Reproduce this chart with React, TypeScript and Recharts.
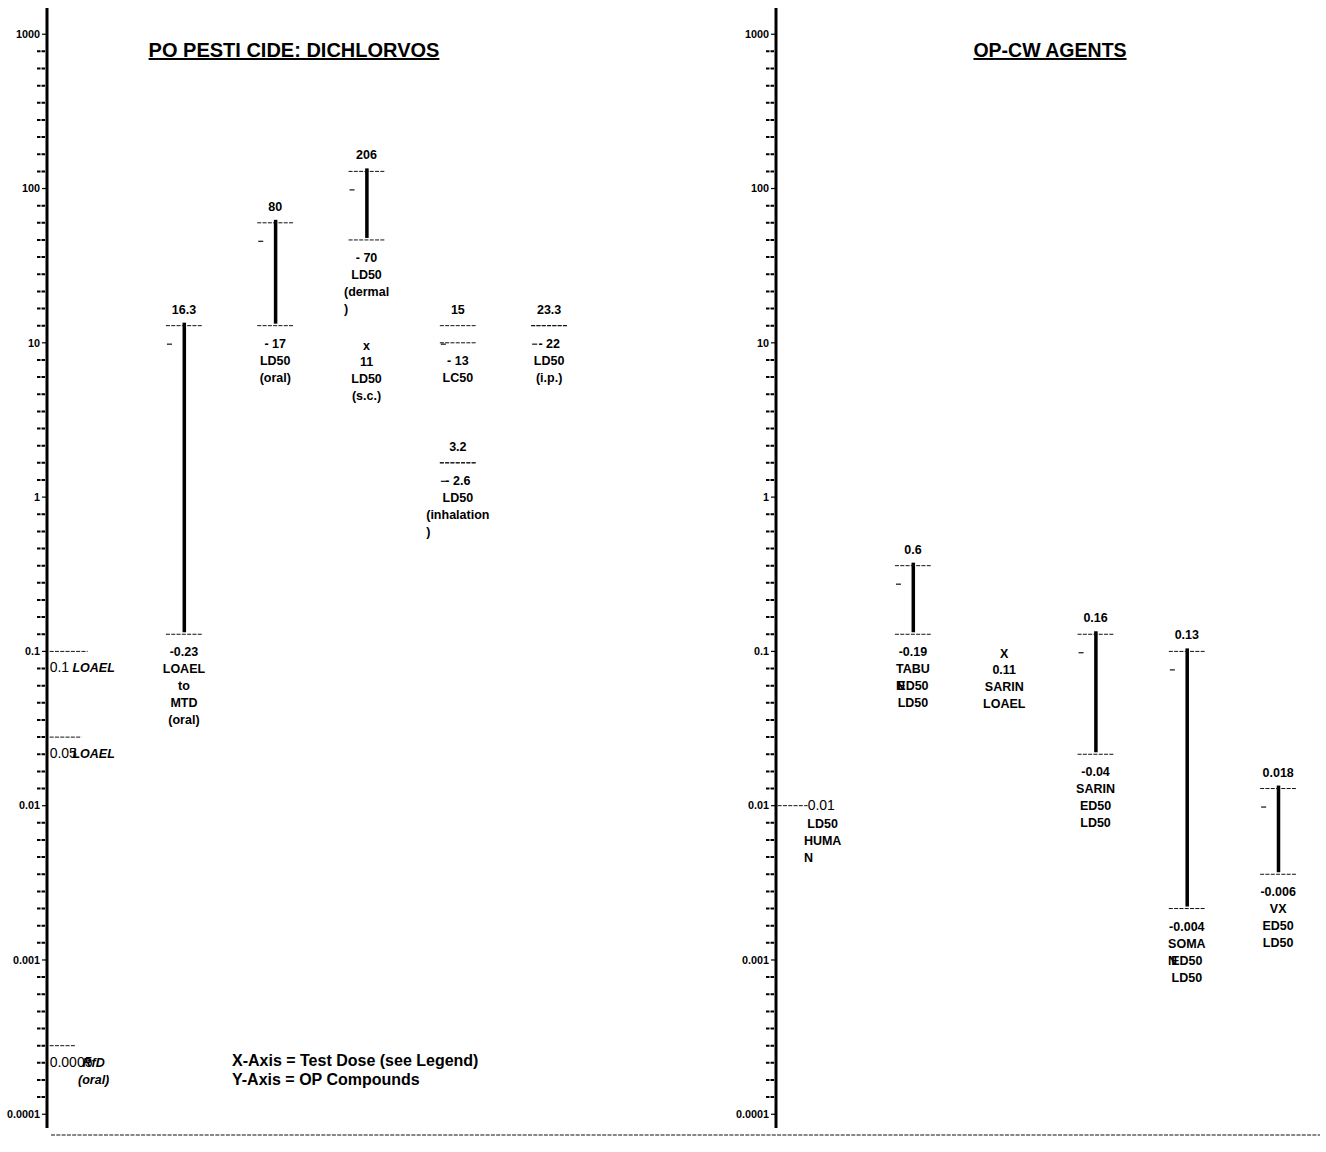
import React from 'react';
import { ComposedChart, Bar, Scatter, XAxis, YAxis } from 'recharts';

const FONT = '"Liberation Sans", Arial, Helvetica, sans-serif';
const LABEL_FONT = `bold 12.5px ${FONT}`;

// y axis: one labelled tick per decade, 9 even steps inside each decade
const decadeLabels = ['0.0001', '0.001', '0.01', '0.1', '1', '10', '100', '1000'];
const decadeExp = [-4, -3, -2, -1, 0, 1, 2, 3];

// ---- left panel: PO pesticide (dichlorvos), doses in mg/kg
const pestCategories = ['Reference levels', 'LOAEL to MTD (oral)', 'LD50 (oral)', 'LD50 (dermal) / (s.c.)', 'LC50 / LD50 (inhalation)', 'LD50 (i.p.)'];
const pestHigh = [null, 16.3, 80, 206, 15, 23.3];
const pestLow = [null, 0.23, 17, 70, 13, 22];
const pestHasBar = [false, true, true, true, false, false];
const pestHighText = ['', '16.3', '80', '206', '15', '23.3'];
const pestLowLines = [[], ['-0.23', 'LOAEL', 'to', 'MTD', '(oral)'], ['- 17', 'LD50', '(oral)'], ['- 70', 'LD50', '(dermal\n)'], ['- 13', 'LC50'], ['- 22', 'LD50', '(i.p.)']];
const pestHigh2 = [null, null, null, null, 3.2, null];
const pestLow2 = [null, null, null, null, 2.6, null];
const pestHigh2Text = ['', '', '', '', '3.2', ''];
const pestLow2Lines = [[], [], [], [], ['- 2.6', 'LD50', '(inhalation\n)'], []];
const pestPoint = [null, null, null, 11, null, null];
const pestPointLines = [[], [], [], ['11', 'LD50', '(s.c.)'], [], []];
// reference levels drawn in the first column
const refValues = [0.1, 0.05, 0.0005];
const refValueText = ['0.1', '0.05', '0.0005'];
const refLines = [['LOAEL'], ['LOAEL'], ['RfD', '(oral)']];
const refDashWidths = [38, 32, 26];

// ---- right panel: OP-CW agents
const agentCategories = ['HUMAN LD50', 'TABUN', 'SARIN LOAEL', 'SARIN', 'SOMAN', 'VX'];
const agentHigh = [null, 0.6, null, 0.16, 0.13, 0.018];
const agentLow = [null, 0.19, null, 0.04, 0.004, 0.006];
const agentHighText = ['', '0.6', '', '0.16', '0.13', '0.018'];
const agentLowLines = [[], ['-0.19', 'TABU\nN', 'ED50', 'LD50'], [], ['-0.04', 'SARIN', 'ED50', 'LD50'], ['-0.004', 'SOMA\nN', 'ED50', 'LD50'], ['-0.006', 'VX', 'ED50', 'LD50']];
const agentPoint = [null, null, 0.11, null, null, null];
const agentPointLines = [[], [], ['0.11', 'SARIN', 'LOAEL'], [], [], []];
const humanValue = [0.01, null, null, null, null, null];
const humanText = '0.01';
const humanLines = ['LD50', 'HUMA\nN'];

const U_MAX = 3.17;
const U_MIN = -4.089;

// value -> axis units: decade index + nearest of the 9 even steps inside the decade
// (the original sheet plots every dose on its nearest minor division)
const toU = (v: number | null) => {
  if (v == null) return null;
  const k = Math.floor(Math.log10(v) + 1e-9);
  const m = v / Math.pow(10, k);
  return k + Math.round(m - 1 + 1e-9) / 9;
};

const axisTicks: number[] = [];
for (let k = -4; k < 3; k++) for (let j = 0; j < 9; j++) axisTicks.push(k + j / 9);
axisTicks.push(3);

let measureCtx: CanvasRenderingContext2D | null = null;
function textWidth(s: string, font: string) {
  if (!measureCtx && typeof document !== 'undefined') measureCtx = document.createElement('canvas').getContext('2d');
  if (!measureCtx) return s.length * 7;
  measureCtx.font = font;
  return measureCtx.measureText(s).width;
}

function AxisTick(props: any) {
  const { x, y, payload } = props;
  const v = payload.value;
  if (Math.abs(v - Math.round(v)) < 1e-6) {
    const label = decadeLabels[decadeExp.indexOf(Math.round(v))];
    return (
      <g>
        <line x1={x - 5} x2={x - 1} y1={y} y2={y} stroke="#000" strokeWidth={1.2} />
        <text x={x - 7} y={y + 3.8} textAnchor="end" fontFamily={FONT} fontSize={10.8} fontWeight="bold" fill="#000">
          {label}
        </text>
      </g>
    );
  }
  return <line x1={x - 10} x2={x - 2} y1={y} y2={y} stroke="#000" strokeWidth={2} strokeDasharray="3.5 1" />;
}

function LabelLines({ x, y, lines, italic = false }: { x: number; y: number; lines: string[]; italic?: boolean }) {
  const out: React.ReactNode[] = [];
  const font = `${italic ? 'italic ' : ''}${LABEL_FONT}`;
  lines.forEach((line, i) => {
    const parts = line.split('\n');
    const w = textWidth(parts[0], font);
    parts.forEach((p, j) => (
      out.push(
        <text
          key={`${i}-${j}`}
          x={j === 0 ? x : x - w / 2}
          y={y + (i + j) * 17}
          textAnchor={j === 0 ? 'middle' : 'start'}
          fontFamily={FONT}
          fontSize={12.5}
          fontWeight="bold"
          fontStyle={italic ? 'italic' : 'normal'}
          fill="#000"
        >
          {p}
        </text>
      )
    ));
  });
  return <g>{out}</g>;
}

const Dash = ({ x1, x2, y }: { x1: number; x2: number; y: number }) => (
  <line x1={x1} x2={x2} y1={y} y2={y} stroke="#111" strokeWidth={1} strokeDasharray="4 1.3" />
);

const highShape = (key: string, textKey: string) => (p: any) => {
  if (p.payload[key] == null) return <g />;
  const { cx, cy } = p;
  return (
    <g>
      <Dash x1={cx - 18} x2={cx + 18} y={cy} />
      <line x1={cx - 17} x2={cx - 12} y1={cy + 18.5} y2={cy + 18.5} stroke="#111" strokeWidth={1.2} />
      <text x={cx} y={cy - 12} textAnchor="middle" fontFamily={FONT} fontSize={12.5} fontWeight="bold" fill="#000">
        {p.payload[textKey]}
      </text>
    </g>
  );
};

const lowShape = (key: string, linesKey: string) => (p: any) => {
  if (p.payload[key] == null) return <g />;
  const { cx, cy } = p;
  return (
    <g>
      <Dash x1={cx - 18} x2={cx + 18} y={cy} />
      <LabelLines x={cx} y={cy + 22} lines={p.payload[linesKey]} />
    </g>
  );
};

const pointShape = (mark: string) => (p: any) => {
  if (p.payload.pt == null) return <g />;
  const { cx, cy } = p;
  return (
    <g>
      <text x={cx} y={cy + 7} textAnchor="middle" fontFamily={FONT} fontSize={12.5} fontWeight="bold" fill="#000">
        {mark}
      </text>
      <LabelLines x={cx} y={cy + 23} lines={p.payload.ptLines} />
    </g>
  );
};

const refShape = (j: number) => (p: any) => {
  if (p.payload[`ref${j}`] == null) return <g />;
  const { cx, cy } = p;
  return (
    <g>
      <Dash x1={cx - 43} x2={cx - 43 + refDashWidths[j]} y={cy} />
      <text x={cx - 43} y={cy + 21} fontFamily={FONT} fontSize={14} fill="#000">
        {refValueText[j]}
      </text>
      <LabelLines x={cx + 1} y={cy + 21} lines={refLines[j]} italic />
    </g>
  );
};

const humanShape = (p: any) => {
  if (p.payload.human == null) return <g />;
  const { cx, cy } = p;
  return (
    <g>
      <Dash x1={cx - 44} x2={cx - 14} y={cy} />
      <text x={cx - 14} y={cy + 4.5} fontFamily={FONT} fontSize={14} fill="#000">
        {humanText}
      </text>
      <LabelLines x={cx + 1} y={cy + 22} lines={humanLines} />
    </g>
  );
};

const RangeBar = (p: any) => {
  if (!p.height || p.payload.bar == null) return <g />;
  const top = Math.min(p.y, p.y + p.height);
  const h = Math.abs(p.height);
  return <rect x={p.x + p.width / 2 - 1.75} y={top - 3} width={3.5} height={h + 1} fill="#000" />;
};

const pestRows = pestCategories.map((name, i) => ({
  name,
  hi: toU(pestHigh[i]),
  lo: toU(pestLow[i]),
  bar: pestHasBar[i] ? [toU(pestLow[i]), toU(pestHigh[i])] : null,
  hiText: pestHighText[i],
  loLines: pestLowLines[i],
  hi2: toU(pestHigh2[i]),
  lo2: toU(pestLow2[i]),
  hi2Text: pestHigh2Text[i],
  lo2Lines: pestLow2Lines[i],
  pt: toU(pestPoint[i]),
  ptLines: pestPointLines[i],
  ref0: i === 0 ? toU(refValues[0]) : null,
  ref1: i === 0 ? toU(refValues[1]) : null,
  ref2: i === 0 ? toU(refValues[2]) : null,
}));

const agentRows = agentCategories.map((name, i) => ({
  name,
  hi: toU(agentHigh[i]),
  lo: toU(agentLow[i]),
  bar: agentHigh[i] != null ? [toU(agentLow[i]), toU(agentHigh[i])] : null,
  hiText: agentHighText[i],
  loLines: agentLowLines[i],
  pt: toU(agentPoint[i]),
  ptLines: agentPointLines[i],
  human: toU(humanValue[i]),
}));

const yAxisProps = {
  type: 'number' as const,
  domain: [U_MIN, U_MAX],
  allowDataOverflow: true,
  ticks: axisTicks,
  interval: 0 as const,
  tick: <AxisTick />,
  tickLine: false,
  tickSize: 0,
  tickMargin: 0,
  width: 47,
  axisLine: { stroke: '#000', strokeWidth: 3 },
};

export default function App() {
  return (
    <div style={{ position: 'absolute', left: 0, top: 0, width: 1326, height: 1152, background: '#fff', fontFamily: FONT }}>
      <div style={{ position: 'absolute', left: 0, top: 0 }}>
        <ComposedChart width={729} height={1152} data={pestRows} margin={{ top: 8, right: 0, bottom: 24, left: 0 }}>
          <XAxis dataKey="name" type="category" hide padding={{ left: 0, right: 134.2 }} />
          <YAxis {...yAxisProps} />
          <Bar dataKey="bar" barSize={4} shape={RangeBar} isAnimationActive={false} />
          <Scatter dataKey="hi" shape={highShape('hi', 'hiText')} isAnimationActive={false} />
          <Scatter dataKey="lo" shape={lowShape('lo', 'loLines')} isAnimationActive={false} />
          <Scatter dataKey="hi2" shape={highShape('hi2', 'hi2Text')} isAnimationActive={false} />
          <Scatter dataKey="lo2" shape={lowShape('lo2', 'lo2Lines')} isAnimationActive={false} />
          <Scatter dataKey="pt" shape={pointShape('x')} isAnimationActive={false} />
          <Scatter dataKey="ref0" shape={refShape(0)} isAnimationActive={false} />
          <Scatter dataKey="ref1" shape={refShape(1)} isAnimationActive={false} />
          <Scatter dataKey="ref2" shape={refShape(2)} isAnimationActive={false} />
        </ComposedChart>
      </div>
      <div style={{ position: 'absolute', left: 729, top: 0 }}>
        <ComposedChart width={597} height={1152} data={agentRows} margin={{ top: 8, right: 0, bottom: 24, left: 0 }}>
          <XAxis dataKey="name" type="category" hide padding={{ left: 0, right: 2.2 }} />
          <YAxis {...yAxisProps} />
          <Bar dataKey="bar" barSize={4} shape={RangeBar} isAnimationActive={false} />
          <Scatter dataKey="hi" shape={highShape('hi', 'hiText')} isAnimationActive={false} />
          <Scatter dataKey="lo" shape={lowShape('lo', 'loLines')} isAnimationActive={false} />
          <Scatter dataKey="pt" shape={pointShape('X')} isAnimationActive={false} />
          <Scatter dataKey="human" shape={humanShape} isAnimationActive={false} />
        </ComposedChart>
      </div>
      <svg width={1326} height={1152} style={{ position: 'absolute', left: 0, top: 0, pointerEvents: 'none' }}>
        <text x={294} y={57} textAnchor="middle" fontFamily={FONT} fontSize={20} fontWeight="bold" textDecoration="underline">
          PO PESTI CIDE: DICHLORVOS
        </text>
        <text x={1050} y={57} textAnchor="middle" fontFamily={FONT} fontSize={19.5} fontWeight="bold" textDecoration="underline">
          OP-CW AGENTS
        </text>
        <text x={232} y={1066} fontFamily={FONT} fontSize={16} fontWeight="bold">
          X-Axis = Test Dose (see Legend)
        </text>
        <text x={232} y={1085} fontFamily={FONT} fontSize={16} fontWeight="bold">
          Y-Axis = OP Compounds
        </text>
        <line x1={51} x2={1320} y1={1135} y2={1135} stroke="#111" strokeWidth={1} strokeDasharray="4 1.3" />
      </svg>
    </div>
  );
}
